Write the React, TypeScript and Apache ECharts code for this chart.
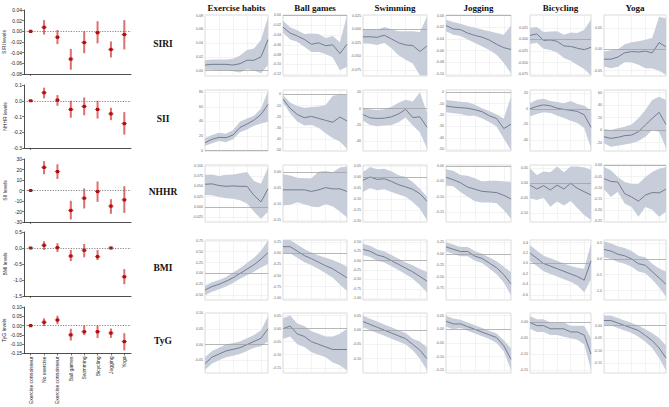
import React, { useEffect, useRef } from "react";
import * as echarts from "echarts";

// ---------------- Forest plots (left column) ----------------
const groups = ["Exercise connoisseur", "No exercise", "Exercise connoisseur", "Ball games", "Swimming", "Bicycling", "Jogging", "Yoga"];

const siriEst = [0, 0.0075, -0.011, -0.052, -0.021, -0.0025, -0.034, -0.006];
const siriLo = [0, -0.006, -0.024, -0.072, -0.041, -0.0225, -0.049, -0.034];
const siriHi = [0, 0.021, 0.0025, -0.033, 0.0, 0.019, -0.019, 0.021];

const nhhrEst = [0, 0.051, 0.004, -0.055, -0.036, -0.055, -0.083, -0.145];
const nhhrLo = [0, 0.015, -0.032, -0.108, -0.092, -0.113, -0.123, -0.215];
const nhhrHi = [0, 0.083, 0.036, 0.0, 0.021, 0.0, -0.045, -0.072];

const siiEst = [0, 22, 18, -19, -7.3, -1, -14.9, -8.9];
const siiLo = [0, 15.5, 11, -27.6, -17.1, -10.8, -22.2, -21.3];
const siiHi = [0, 28, 25, -9.8, 1.9, 8.6, -8.3, 4.1];

const bmiEst = [0, 0.084, 0.01, -0.25, -0.07, -0.27, 0.0, -0.9];
const bmiLo = [0, -0.06, -0.125, -0.41, -0.29, -0.375, -0.012, -1.13];
const bmiHi = [0, 0.21, 0.15, -0.06, 0.125, -0.06, 0.012, -0.66];

const tygEst = [0, 0.018, 0.03, -0.05, -0.033, -0.033, -0.04, -0.086];
const tygLo = [0, -0.003, 0.008, -0.08, -0.051, -0.067, -0.066, -0.133];
const tygHi = [0, 0.039, 0.053, -0.017, 0.0, 0.0, -0.016, -0.041];

const forestNames = ["SIRI levels", "NHHR levels", "SII levels", "BMI levels", "TyG levels"];
const forestAxes = [
  [-0.08, 0.04, 0.02, 2],
  [-0.3, 0.1, 0.1, 1],
  [-30, 30, 10, 0],
  [-1.5, 0.5, 0.5, 1],
  [-0.15, 0.1, 0.05, 2],
];

// ---------------- Dose-response panels ----------------
const columnTitles = ["Exercise habits", "Ball games", "Swimming", "Jogging", "Bicycling", "Yoga"];
const rowLabels = ["SIRI", "SII", "NHHR", "BMI", "TyG"];
const xPositions = ["1", "2", "3", "4", "5", "6", "7", "8", "9", "10"];

// SIRI
const SIRI_EXERCISE = { fit: [0.008, 0.009, 0.009, 0.009, 0.008, 0.01, 0.015, 0.015, 0.02, 0.045], hi: [0.015, 0.016, 0.016, 0.016, 0.017, 0.022, 0.03, 0.032, 0.045, 0.078], lo: [0.001, 0.001, 0.0, 0.0, -0.001, -0.003, 0.002, 0.0, -0.004, 0.008] };
const SIRI_BALL = { fit: [-0.024, -0.036, -0.042, -0.049, -0.059, -0.056, -0.062, -0.06, -0.078, -0.059], hi: [-0.011, -0.024, -0.03, -0.038, -0.037, -0.038, -0.046, -0.042, -0.055, 0.0], lo: [-0.035, -0.049, -0.054, -0.064, -0.075, -0.075, -0.079, -0.086, -0.112, -0.105] };
const SIRI_SWIM = { fit: [-0.014, -0.014, -0.015, -0.011, -0.018, -0.025, -0.029, -0.03, -0.041, -0.031], hi: [0.0, 0.0, -0.001, 0.004, 0.0, -0.004, -0.004, -0.004, -0.005, 0.023], lo: [-0.026, -0.027, -0.029, -0.025, -0.035, -0.048, -0.056, -0.063, -0.085, -0.085] };
const SIRI_JOG = { fit: [-0.017, -0.023, -0.024, -0.03, -0.034, -0.037, -0.042, -0.049, -0.055, -0.058], hi: [-0.007, -0.011, -0.014, -0.018, -0.021, -0.024, -0.027, -0.03, -0.033, -0.017], lo: [-0.027, -0.033, -0.035, -0.041, -0.047, -0.053, -0.059, -0.067, -0.081, -0.099] };
const SIRI_BIKE = { fit: [0.009, 0.012, -0.002, -0.001, -0.004, -0.014, -0.015, -0.019, -0.022, -0.017], hi: [0.0255, 0.027, 0.016, 0.0175, 0.018, 0.01, 0.015, 0.014, 0.021, 0.043], lo: [-0.0095, -0.007, -0.02, -0.0225, -0.028, -0.04, -0.046, -0.055, -0.064, -0.078] };
const SIRI_YOGA = { fit: [-0.023, -0.023, -0.018, -0.008, -0.005, -0.006, -0.004, -0.008, 0.016, 0.006], hi: [-0.005, -0.002, 0.0, 0.012, 0.017, 0.019, 0.0225, 0.027, 0.077, 0.073], lo: [-0.04, -0.044, -0.041, -0.03, -0.031, -0.036, -0.044, -0.045, -0.05, -0.06] };

// SII
const SII_EXERCISE = { fit: [10.9, 15.5, 18.2, 17.7, 21.4, 31.8, 36.4, 41.8, 49.5, 63.2], hi: [16.8, 21.4, 24.5, 23.2, 28.2, 39.5, 44, 47.7, 57.7, 81.4], lo: [6.4, 10, 13.2, 11.4, 15.5, 25, 29, 34, 37.3, 39.5] };
const SII_BALL = { fit: [-4.2, -12.6, -18, -21, -19.8, -21.6, -23.4, -25.1, -20.4, -24], hi: [-0.6, -7.2, -10.5, -12, -11.4, -10.8, -9.6, -1.2, 0, -0.6], lo: [-7.2, -17, -24.5, -28, -27.5, -30, -35, -39.5, -42.5, -49] };
const SII_SWIM = { fit: [-7.2, -11.2, -12, -11.6, -10, -6.4, -0.8, -10.8, -10, -22.8], hi: [1.2, -0.8, -1.6, -0.8, 2.4, 7.2, 11, 9, 20, -5], lo: [-14.8, -20, -21.6, -20.8, -20, -16.8, -10.8, -20.8, -28.8, -48.8] };
const SII_JOG = { fit: [-12, -13, -13.5, -14, -15.3, -17, -20.6, -23, -31.8, -28], hi: [-6.8, -7.5, -8.2, -8.8, -11, -14, -16.5, -19.4, -23, -3.8], lo: [-17.6, -18.5, -19, -20.6, -20.6, -23, -26, -30, -40.6, -51] };
const SII_BIKE = { fit: [0, 3, 5, 3.8, 0.8, -0.8, -2.1, -3.4, -7.7, -23.8], hi: [7.2, 11.5, 12.8, 10, 8.5, 7.2, 10, 6, 4.3, -2.5], lo: [-9.8, -6.8, -4.3, -5.5, -8.5, -11.9, -15.3, -18.3, -24.7, -50.2] };
const SII_YOGA = { fit: [-10.7, -13.3, -11.7, -9, -8, -2.7, 8, 18.7, 28.3, 9], hi: [1.6, 0, 2.7, 5.3, 9, 18.7, 32, 48, 53.3, 48], lo: [-21.3, -26.7, -25, -23, -21.3, -17.6, -10.7, 0, -2.7, -29] };

// NHHR
const NHHR_EXERCISE = { fit: [0.055, 0.056, 0.052, 0.05, 0.051, 0.05, 0.05, 0.028, 0.012, 0.044], hi: [0.078, 0.079, 0.075, 0.078, 0.079, 0.082, 0.085, 0.063, 0.056, 0.096], lo: [0.029, 0.028, 0.024, 0.021, 0.02, 0.016, 0.008, -0.012, -0.029, -0.012] };
const NHHR_BALL = { fit: [-0.055, -0.055, -0.055, -0.055, -0.06, -0.055, -0.048, -0.052, -0.052, -0.06], hi: [-0.006, -0.01, -0.017, -0.019, -0.019, 0.002, 0.004, 0.0, 0.015, 0.018], lo: [-0.104, -0.102, -0.094, -0.1, -0.107, -0.11, -0.1, -0.107, -0.123, -0.142] };
const NHHR_SWIM = { fit: [-0.015, 0.0, -0.011, -0.008, -0.02, -0.035, -0.045, -0.056, -0.076, -0.11], hi: [0.023, 0.045, 0.035, 0.038, 0.026, 0.008, 0.0, -0.023, -0.053, -0.09], lo: [-0.068, -0.05, -0.06, -0.056, -0.068, -0.08, -0.09, -0.114, -0.144, -0.197] };
const NHHR_JOG = { fit: [-0.037, -0.045, -0.055, -0.069, -0.076, -0.083, -0.085, -0.087, -0.096, -0.108], hi: [-0.011, -0.016, -0.03, -0.032, -0.04, -0.051, -0.048, -0.048, -0.051, -0.053], lo: [-0.064, -0.066, -0.085, -0.101, -0.115, -0.119, -0.119, -0.122, -0.144, -0.172] };
const NHHR_BIKE = { fit: [-0.006, -0.019, -0.008, -0.022, -0.006, -0.019, 0.0, -0.017, -0.028, -0.039], hi: [0.05, 0.028, 0.039, 0.037, 0.056, 0.037, 0.056, 0.056, 0.053, 0.045], lo: [-0.05, -0.056, -0.048, -0.078, -0.061, -0.074, -0.059, -0.083, -0.106, -0.122] };
const NHHR_YOGA = { fit: [-0.06, -0.072, -0.075, -0.127, -0.142, -0.161, -0.134, -0.122, -0.124, -0.107], hi: [-0.007, -0.022, -0.052, -0.075, -0.082, -0.082, -0.052, -0.03, -0.015, -0.007], lo: [-0.107, -0.142, -0.119, -0.172, -0.187, -0.231, -0.187, -0.2, -0.231, -0.209] };

// BMI
const BMI_EXERCISE = { fit: [-0.38, -0.3, -0.25, -0.18, -0.1, 0.0, 0.1, 0.2, 0.33, 0.48], hi: [-0.28, -0.2, -0.15, -0.08, 0.02, 0.12, 0.24, 0.36, 0.52, 0.76], lo: [-0.5, -0.42, -0.36, -0.3, -0.22, -0.12, -0.04, 0.04, 0.14, 0.22] };
const BMI_BALL = { fit: [0.15, 0.15, 0.05, -0.05, -0.12, -0.2, -0.28, -0.35, -0.45, -0.55], hi: [0.3, 0.3, 0.2, 0.1, 0.02, -0.05, -0.1, -0.15, -0.22, -0.3], lo: [0.0, 0.0, -0.1, -0.2, -0.27, -0.35, -0.45, -0.55, -0.7, -0.85] };
const BMI_SWIM = { fit: [0.3, 0.25, 0.15, 0.1, 0.0, -0.1, -0.2, -0.3, -0.42, -0.55], hi: [0.45, 0.4, 0.3, 0.25, 0.15, 0.05, -0.05, -0.12, -0.22, -0.3], lo: [0.15, 0.1, 0.0, -0.05, -0.15, -0.25, -0.36, -0.48, -0.65, -0.85] };
const BMI_JOG = { fit: [0.15, 0.1, 0.05, 0.05, -0.05, -0.1, -0.2, -0.3, -0.45, -0.65], hi: [0.25, 0.2, 0.15, 0.15, 0.06, 0.0, -0.08, -0.16, -0.28, -0.4], lo: [0.05, 0.0, -0.05, -0.05, -0.15, -0.2, -0.32, -0.44, -0.62, -0.9] };
const BMI_BIKE = { fit: [0.2, 0.1, 0.0, -0.05, -0.1, -0.15, -0.2, -0.25, -0.32, 0.05], hi: [0.35, 0.25, 0.15, 0.1, 0.05, 0.0, -0.05, -0.08, -0.1, 0.38], lo: [0.05, -0.05, -0.15, -0.2, -0.25, -0.3, -0.35, -0.42, -0.55, -0.3] };
const BMI_YOGA = { fit: [0.3, 0.25, 0.15, 0.1, 0.0, -0.15, -0.2, -0.4, -0.6, -0.8], hi: [0.55, 0.5, 0.4, 0.35, 0.25, 0.1, 0.05, -0.15, -0.3, -0.4], lo: [0.05, 0.0, -0.1, -0.15, -0.25, -0.4, -0.45, -0.65, -0.9, -1.2] };

// TyG
const TYG_EXERCISE = { fit: [-0.06, -0.04, -0.03, -0.02, -0.015, -0.01, 0.0, 0.01, 0.02, 0.05], hi: [-0.04, -0.02, -0.01, 0.0, 0.005, 0.01, 0.02, 0.03, 0.045, 0.09], lo: [-0.08, -0.06, -0.05, -0.04, -0.035, -0.03, -0.02, -0.01, -0.005, 0.01] };
const TYG_BALL = { fit: [0.0, 0.01, -0.02, -0.03, -0.05, -0.06, -0.07, -0.08, -0.08, -0.08], hi: [0.04, 0.05, 0.02, 0.01, -0.01, -0.02, -0.03, -0.03, -0.02, 0.0], lo: [-0.04, -0.03, -0.06, -0.07, -0.09, -0.1, -0.11, -0.13, -0.14, -0.16] };
const TYG_SWIM = { fit: [0.03, 0.02, 0.01, 0.0, -0.01, -0.02, -0.03, -0.05, -0.07, -0.1], hi: [0.05, 0.04, 0.03, 0.02, 0.01, 0.0, -0.01, -0.03, -0.04, -0.06], lo: [0.01, 0.0, -0.01, -0.02, -0.03, -0.04, -0.05, -0.07, -0.1, -0.14] };
const TYG_JOG = { fit: [0.03, 0.02, 0.02, 0.01, 0.0, -0.01, -0.02, -0.03, -0.06, -0.11], hi: [0.05, 0.04, 0.035, 0.025, 0.015, 0.005, -0.005, -0.015, -0.04, -0.07], lo: [0.01, 0.0, 0.005, -0.005, -0.015, -0.025, -0.035, -0.05, -0.08, -0.15] };
const TYG_BIKE = { fit: [0.0, -0.01, -0.01, -0.02, -0.02, -0.02, -0.03, -0.03, -0.04, -0.1], hi: [0.02, 0.01, 0.01, 0.0, 0.0, 0.0, -0.01, -0.01, -0.01, -0.05], lo: [-0.02, -0.03, -0.03, -0.04, -0.04, -0.045, -0.05, -0.055, -0.07, -0.15] };
const TYG_YOGA = { fit: [0.02, 0.02, 0.01, 0.0, -0.01, -0.02, -0.04, -0.06, -0.09, -0.13], hi: [0.04, 0.04, 0.03, 0.02, 0.01, 0.0, -0.015, -0.03, -0.05, -0.08], lo: [0.0, 0.0, -0.01, -0.02, -0.03, -0.045, -0.065, -0.09, -0.13, -0.18] };

const panelRows = [
  [SIRI_EXERCISE, SIRI_BALL, SIRI_SWIM, SIRI_JOG, SIRI_BIKE, SIRI_YOGA],
  [SII_EXERCISE, SII_BALL, SII_SWIM, SII_JOG, SII_BIKE, SII_YOGA],
  [NHHR_EXERCISE, NHHR_BALL, NHHR_SWIM, NHHR_JOG, NHHR_BIKE, NHHR_YOGA],
  [BMI_EXERCISE, BMI_BALL, BMI_SWIM, BMI_JOG, BMI_BIKE, BMI_YOGA],
  [TYG_EXERCISE, TYG_BALL, TYG_SWIM, TYG_JOG, TYG_BIKE, TYG_YOGA],
];

// y ranges [min, max] and tick labels of each panel
const siriRanges = [[-0.008, 0.081], [-0.124, 0.001], [-0.086, 0.026], [-0.1035, 0.001], [-0.079, 0.053], [-0.0625, 0.081]];
const siriTicks = [[0, 0.02, 0.04, 0.06, 0.08], [0, -0.02, -0.04, -0.06, -0.08, -0.1, -0.12], [0.025, 0, -0.025, -0.05, -0.075], [0, -0.02, -0.04, -0.06, -0.08, -0.1], [0.025, 0, -0.025, -0.05, -0.075], [0.05, 0, -0.05]];
const siiRanges = [[-0.5, 83], [-51, 4], [-52, 23], [-51.5, 2], [-54, 24], [-33.5, 64]];
const siiTicks = [[0, 20, 40, 60, 80], [0, -10, -20, -30, -40, -50], [20, 0, -20, -40], [0, -10, -20, -30, -40, -50], [20, 0, -20, -40], [60, 40, 20, 0, -20]];
const nhhrRanges = [[-0.037, 0.102], [-0.156, 0.023], [-0.2045, 0.0545], [-0.183, 0.003], [-0.129, 0.061], [-0.255, 0.002]];
const nhhrTicks = [[0.1, 0.075, 0.05, 0.025, 0, -0.025], [0, -0.05, -0.1, -0.15], [0.05, 0, -0.05, -0.1, -0.15, -0.2], [0, -0.05, -0.1, -0.15], [0.05, 0, -0.05, -0.1], [0, -0.05, -0.1, -0.15, -0.2, -0.25]];
const bmiRanges = [[-0.61, 0.77], [-1.05, 0.3], [-1.05, 0.55], [-1.0, 0.3], [-0.7, 0.45], [-1.3, 0.6]];
const bmiTicks = [[0.75, 0.5, 0.25, 0, -0.25, -0.5], [0.25, 0, -0.25, -0.5, -0.75, -1.0], [0.5, 0.25, 0, -0.25, -0.5, -0.75, -1.0], [0.25, 0, -0.25, -0.5, -0.75], [0.4, 0.2, 0, -0.2, -0.4, -0.6], [0.5, 0, -0.5, -1.0]];
const tygRanges = [[-0.09, 0.1], [-0.17, 0.06], [-0.15, 0.06], [-0.16, 0.06], [-0.16, 0.03], [-0.19, 0.05]];
const tygTicks = [[0.1, 0.05, 0, -0.05], [0.05, 0, -0.05, -0.1, -0.15], [0.05, 0, -0.05, -0.1], [0.05, 0, -0.05, -0.1, -0.15], [0, -0.05, -0.1, -0.15], [0, -0.05, -0.1, -0.15]];

const rowRanges = [siriRanges, siiRanges, nhhrRanges, bmiRanges, tygRanges];
const rowTicks = [siriTicks, siiTicks, nhhrTicks, bmiTicks, tygTicks];

// layout
const forestLeft = 24;
const forestWidth = 107;
const forestTops = [10, 85, 159, 232, 307];
const forestHeights = [64, 63, 63, 64, 59];
const panelLefts = [205, 283, 363, 446, 530, 604];
const panelWidths = [63, 64, 64, 65, 61, 62];
const panelTops = [15, 90, 165, 240, 313];
const panelHeights = [61, 61, 57, 60, 60];

const BAND = "#c7ced9";
const LINE = "#6b7389";

function decimalsOf(ticks: number[]) {
  let d = 0;
  ticks.forEach((t) => {
    const s = String(t);
    const p = s.indexOf(".");
    if (p >= 0) d = Math.max(d, s.length - p - 1);
  });
  return d;
}

function buildOption() {
  const grid: any[] = [];
  const xAxis: any[] = [];
  const yAxis: any[] = [];
  const series: any[] = [];
  const graphic: any[] = [];

  const forestData = [
    [siriEst, siriLo, siriHi],
    [nhhrEst, nhhrLo, nhhrHi],
    [siiEst, siiLo, siiHi],
    [bmiEst, bmiLo, bmiHi],
    [tygEst, tygLo, tygHi],
  ];

  forestData.forEach((fd, k) => {
    const [mn, mx, iv, dec] = forestAxes[k];
    grid.push({ left: forestLeft, top: forestTops[k], width: forestWidth, height: forestHeights[k] });
    xAxis.push({
      type: "category",
      gridIndex: k,
      data: groups,
      boundaryGap: true,
      axisLine: { show: true, onZero: false, lineStyle: { color: "#222", width: 0.8 } },
      axisTick: { show: true, alignWithLabel: true, length: 2, lineStyle: { color: "#222", width: 0.6 } },
      axisLabel: k === 4 ? { show: true, rotate: 90, fontSize: 5, color: "#222", margin: 3, interval: 0 } : { show: false },
      splitLine: { show: false },
    });
    yAxis.push({
      type: "value",
      gridIndex: k,
      min: mn,
      max: mx,
      interval: iv,
      name: forestNames[k],
      nameLocation: "middle",
      nameGap: 17,
      nameTextStyle: { fontSize: 5, color: "#222" },
      axisLine: { show: true, onZero: false, lineStyle: { color: "#222", width: 0.8 } },
      axisTick: { show: true, length: 2, lineStyle: { color: "#222", width: 0.6 } },
      axisLabel: { fontSize: 5, color: "#222", margin: 2, formatter: (v: number) => v.toFixed(dec as number) },
      splitLine: { show: false },
    });
    const [est, lo, hi] = fd;
    series.push({
      type: "custom",
      xAxisIndex: k,
      yAxisIndex: k,
      data: est.map((e, i) => [i, e, lo[i], hi[i]]),
      encode: { x: 0, y: 1 },
      renderItem: (params: any, api: any) => {
        const i = api.value(0);
        const pTop = api.coord([i, api.value(3)]);
        const pBot = api.coord([i, api.value(2)]);
        const pC = api.coord([i, api.value(1)]);
        return {
          type: "group",
          children: [
            { type: "rect", shape: { x: pTop[0] - 1, y: pTop[1], width: 2, height: Math.max(pBot[1] - pTop[1], 0.5) }, style: { fill: "rgba(205,50,50,0.7)" } },
            { type: "rect", shape: { x: pC[0] - 1.6, y: pC[1] - 1.6, width: 3.2, height: 3.2 }, style: { fill: "#b10f0f" } },
            { type: "line", shape: { x1: pC[0] - 2.6, y1: pC[1], x2: pC[0] + 2.6, y2: pC[1] }, style: { stroke: "#b10f0f", lineWidth: 0.8 } },
          ],
        };
      },
      markLine: {
        silent: true,
        symbol: "none",
        label: { show: false },
        lineStyle: { type: [1.2, 1.4], color: "#555", width: 0.7 },
        data: [{ yAxis: 0 }],
      },
    });
  });

  let g = 5;
  panelRows.forEach((row, r) => {
    row.forEach((p, c) => {
      const [mn, mx] = rowRanges[r][c];
      const ticks = rowTicks[r][c];
      const dec = decimalsOf(ticks);
      grid.push({
        left: panelLefts[c],
        top: panelTops[r],
        width: panelWidths[c],
        height: panelHeights[r],
        show: true,
        backgroundColor: "#fff",
        borderColor: "#d2d2d2",
        borderWidth: 0.8,
      });
      xAxis.push({
        type: "category",
        gridIndex: g,
        data: xPositions,
        boundaryGap: false,
        axisLine: { show: false },
        axisTick: { show: false },
        axisLabel: { show: false },
        splitLine: { show: true, interval: 1, lineStyle: { color: "#ebebeb", width: 0.6 } },
      });
      yAxis.push({
        type: "value",
        gridIndex: g,
        min: mn,
        max: mx,
        axisLine: { show: false },
        axisTick: { show: false, customValues: ticks },
        axisLabel: { customValues: ticks, fontSize: 3.6, color: "#666", margin: 2, formatter: (v: number) => v.toFixed(dec) },
        splitLine: { show: true, lineStyle: { color: "#ebebeb", width: 0.6 } },
      });
      const stack = "band" + g;
      series.push({
        type: "line",
        xAxisIndex: g,
        yAxisIndex: g,
        data: p.lo,
        stack,
        stackStrategy: "all",
        symbol: "none",
        silent: true,
        lineStyle: { opacity: 0 },
      });
      series.push({
        type: "line",
        xAxisIndex: g,
        yAxisIndex: g,
        data: p.hi.map((h, i) => h - p.lo[i]),
        stack,
        stackStrategy: "all",
        symbol: "none",
        silent: true,
        lineStyle: { opacity: 0 },
        areaStyle: { color: BAND, opacity: 1 },
      });
      const zeroVisible = mn < 0 && mx > 0;
      series.push({
        type: "line",
        xAxisIndex: g,
        yAxisIndex: g,
        data: p.fit,
        symbol: "none",
        silent: true,
        lineStyle: { color: LINE, width: 0.9 },
        markLine: zeroVisible
          ? { silent: true, symbol: "none", label: { show: false }, lineStyle: { type: "solid", color: "#9c9c9c", width: 0.7 }, data: [{ yAxis: 0 }] }
          : undefined,
      });
      g++;
    });
  });

  columnTitles.forEach((t, c) => {
    graphic.push({
      type: "text",
      x: panelLefts[c] + panelWidths[c] / 2,
      y: 8,
      style: { text: t, fontSize: 9, fontWeight: "bold", fontFamily: "Liberation Serif", fill: "#111", align: "center", verticalAlign: "middle" },
    });
  });
  rowLabels.forEach((t, r) => {
    graphic.push({
      type: "text",
      x: 163,
      y: panelTops[r] + panelHeights[r] / 2 - 2,
      style: { text: t, fontSize: 9.5, fontWeight: "bold", fontFamily: "Liberation Serif", fill: "#111", align: "center", verticalAlign: "middle" },
    });
  });

  return {
    animation: false,
    backgroundColor: "#fff",
    textStyle: { fontFamily: "Liberation Sans" },
    grid,
    xAxis,
    yAxis,
    series,
    graphic,
  };
}

export default function App() {
  const ref = useRef<HTMLDivElement>(null);
  useEffect(() => {
    if (!ref.current) return;
    const chart = echarts.init(ref.current, undefined, { renderer: "svg" });
    chart.setOption(buildOption());
    return () => chart.dispose();
  }, []);
  return <div ref={ref} style={{ position: "absolute", left: 0, top: 0, width: 669, height: 407 }} />;
}
